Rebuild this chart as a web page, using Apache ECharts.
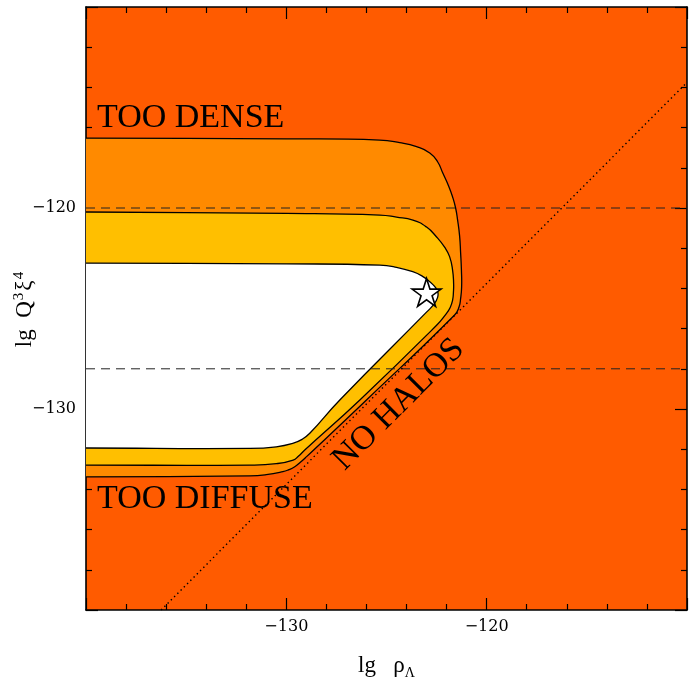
<!DOCTYPE html>
<html>
<head>
<meta charset="utf-8">
<script src="https://cdn.jsdelivr.net/npm/echarts@6/dist/echarts.min.js"></script>
<style>
html,body{margin:0;padding:0;background:#fff;}
#chart{width:690px;height:685px;}
</style>
</head>
<body>
<div id="chart"></div>
<script>
// ---- data (lg rho_Lambda, lg Q^3 xi^4) ----
const xRange = [-140, -110];
const yRange = [-140, -110];
const tickStep = 10;

const outerBoundary = [
  [-140, -116.52], [-130, -116.56], [-125.34, -116.62], [-124.34, -116.75], [-123.5, -116.95],
  [-122.84, -117.26], [-122.45, -117.7], [-122.19, -118.26], [-121.9, -118.9], [-121.7, -119.45],
  [-121.55, -120.0], [-121.45, -120.6], [-121.35, -121.4], [-121.3, -122.24], [-121.26, -123.1],
  [-121.25, -123.93], [-121.3, -124.5], [-121.38, -124.93], [-121.6, -125.32],
  [-126.0, -129.55], [-128.99, -132.37], [-129.3, -132.65], [-129.58, -132.87], [-129.9, -133.03],
  [-130.17, -133.12], [-131.0, -133.27], [-131.82, -133.33], [-140, -133.38]
];
const middleBoundary = [
  [-140, -120.2], [-130, -120.27], [-125.34, -120.35], [-124.5, -120.45], [-123.68, -120.6],
  [-123.0, -120.95], [-122.51, -121.43], [-122.1, -121.95], [-121.85, -122.42], [-121.7, -123.1],
  [-121.65, -123.75], [-121.66, -124.2], [-121.7, -124.58], [-121.82, -124.95], [-122.05, -125.3],
  [-122.51, -125.85], [-126.33, -129.55], [-129.08, -132.04], [-129.4, -132.35], [-129.66, -132.54],
  [-130.5, -132.72], [-131.82, -132.79], [-140, -132.79]
];
const innerBoundary = [
  [-140, -122.74], [-130, -122.78], [-125.34, -122.84], [-124.5, -122.95], [-123.69, -123.17],
  [-123.2, -123.4], [-122.84, -123.67], [-122.6, -123.9], [-122.44, -124.18], [-122.45, -124.45],
  [-122.6, -124.75], [-122.99, -125.17], [-127.33, -129.55], [-128.83, -131.21], [-129.2, -131.5],
  [-129.68, -131.71], [-130.5, -131.88], [-131.82, -131.96], [-140, -131.94]
];
const dashedLevels = [-120, -128];
const noHaloLine = [[-136.25, -140], [-110, -113.75]];
const starPoint = [-123.0, -124.2];
const annotationTexts = ['TOO DENSE', 'TOO DIFFUSE', 'NO HALOS'];
const annotationPoints = [[-139.45, -115.55], [-139.45, -134.48], [-124.39, -129.78]];
const annotationAngles = [0, 0, 45];
const annotationAligns = ['left', 'left', 'center'];

// ---- styles ----
const C_BG = '#FF5B00', C_MID = '#FF8A00', C_YEL = '#FFBF00', C_IN = '#FFFFFF';
const SERIF = '"Liberation Serif", "Times New Roman", serif';
const TICKFONT = '"DejaVu Serif", serif';

function polySeries(name, pts, color) {
  return {
    type: 'custom', name: name, coordinateSystem: 'cartesian2d', clip: true, silent: true,
    data: [pts[0]],
    renderItem: function (params, api) {
      // boundary runs off the left edge of the frame (clipped there)
      const first = pts[0], last = pts[pts.length - 1];
      const ring = [[first[0] - 3, first[1]]].concat(pts, [[last[0] - 3, last[1]]]);
      const points = ring.map(function (p) { return api.coord(p); });
      return {
        type: 'polygon',
        shape: { points: points, smooth: 0.5 },
        style: { fill: color, stroke: '#000', lineWidth: 1.3, lineJoin: 'round' }
      };
    }
  };
}

function axisCommon(pos, showLabel) {
  return {
    type: 'value', position: pos, min: xRange[0], max: xRange[1], interval: tickStep,
    nameMoveOverlap: false,
    axisLine: { show: true, onZero: false, lineStyle: { color: '#000', width: 1.6 } },
    axisTick: { show: true, inside: true, length: 12, lineStyle: { color: '#000', width: 1.2 } },
    minorTick: { show: true, splitNumber: 5, length: 6, lineStyle: { color: '#000', width: 1.2 } },
    splitLine: { show: false },
    axisLabel: {
      show: showLabel, showMinLabel: false, showMaxLabel: false,
      fontFamily: TICKFONT, fontSize: 16, color: '#000',
      formatter: function (v) { return String(v).replace('-', '\u2212'); }
    }
  };
}

const xBottom = axisCommon('bottom', true);
xBottom.axisLabel.margin = 9;
xBottom.name = '{n|lg   \u03C1}{sub|\u039B}';
xBottom.nameLocation = 'middle';
xBottom.nameGap = 42;
xBottom.nameTextStyle = {
  color: '#000', fontFamily: SERIF, fontSize: 23,
  rich: {
    n: { fontFamily: SERIF, fontSize: 23, lineHeight: 28, color: '#000' },
    sub: { fontFamily: SERIF, fontSize: 14, lineHeight: 12, verticalAlign: 'bottom', color: '#000' }
  }
};
const xTop = axisCommon('top', false);

const yLeft = axisCommon('left', true);
yLeft.min = yRange[0]; yLeft.max = yRange[1];
yLeft.axisLabel.margin = 10;
yLeft.name = '{n|lg  Q}{sup|3}{n|\u03BE}{sup|4}';
yLeft.nameLocation = 'middle';
yLeft.nameGap = 48;
yLeft.nameTextStyle = {
  color: '#000', fontFamily: SERIF, fontSize: 23,
  rich: {
    n: { fontFamily: SERIF, fontSize: 23, lineHeight: 26, color: '#000' },
    sup: { fontFamily: SERIF, fontSize: 15, lineHeight: 14, verticalAlign: 'top', color: '#000', padding: [0, 2, 0, 1] }
  }
};
const yRight = axisCommon('right', false);
yRight.min = yRange[0]; yRight.max = yRange[1];

const series = [
  polySeries('outer', outerBoundary, C_MID),
  polySeries('middle', middleBoundary, C_YEL),
  polySeries('inner', innerBoundary, C_IN)
];
dashedLevels.forEach(function (lv) {
  series.push({
    type: 'line', silent: true, symbol: 'none', z: 5,
    data: [[xRange[0], lv], [xRange[1], lv]],
    lineStyle: { color: '#222', width: 1, type: [9, 6] }
  });
});
series.push({
  type: 'line', silent: true, symbol: 'none', z: 5,
  data: noHaloLine,
  lineStyle: { color: '#000', width: 1.4, type: [1.4, 3.2] }
});
series.push({
  type: 'scatter', silent: true, z: 8,
  data: [starPoint],
  symbol: 'path://M50,0 L61.23,34.55 L97.55,34.55 L68.17,55.9 L79.39,90.45 L50,69.1 L20.61,90.45 L31.83,55.9 L2.45,34.55 L38.77,34.55 Z',
  symbolSize: [29, 28],
  itemStyle: { color: '#fff', borderColor: '#000', borderWidth: 1.6, opacity: 1 }
});
series.push({
  type: 'custom', coordinateSystem: 'cartesian2d', silent: true, z: 9, clip: false,
  data: annotationPoints,
  renderItem: function (params, api) {
    const i = params.dataIndex;
    const p = api.coord(annotationPoints[i]);
    return {
      type: 'text', x: p[0], y: p[1],
      rotation: annotationAngles[i] * Math.PI / 180,
      style: {
        text: annotationTexts[i], fill: '#000',
        font: '34px ' + SERIF,
        align: annotationAligns[i], verticalAlign: 'middle'
      }
    };
  }
});

const chart = echarts.init(document.getElementById('chart'), null, { renderer: 'canvas' });
chart.setOption({
  animation: false,
  backgroundColor: '#fff',
  grid: {
    left: 86, right: 3, top: 7, bottom: 75, show: true, backgroundColor: C_BG, borderWidth: 0,
    containLabel: false, outerBoundsMode: 'none'
  },
  xAxis: [xBottom, xTop],
  yAxis: [yLeft, yRight],
  series: series
});
</script>
</body>
</html>
